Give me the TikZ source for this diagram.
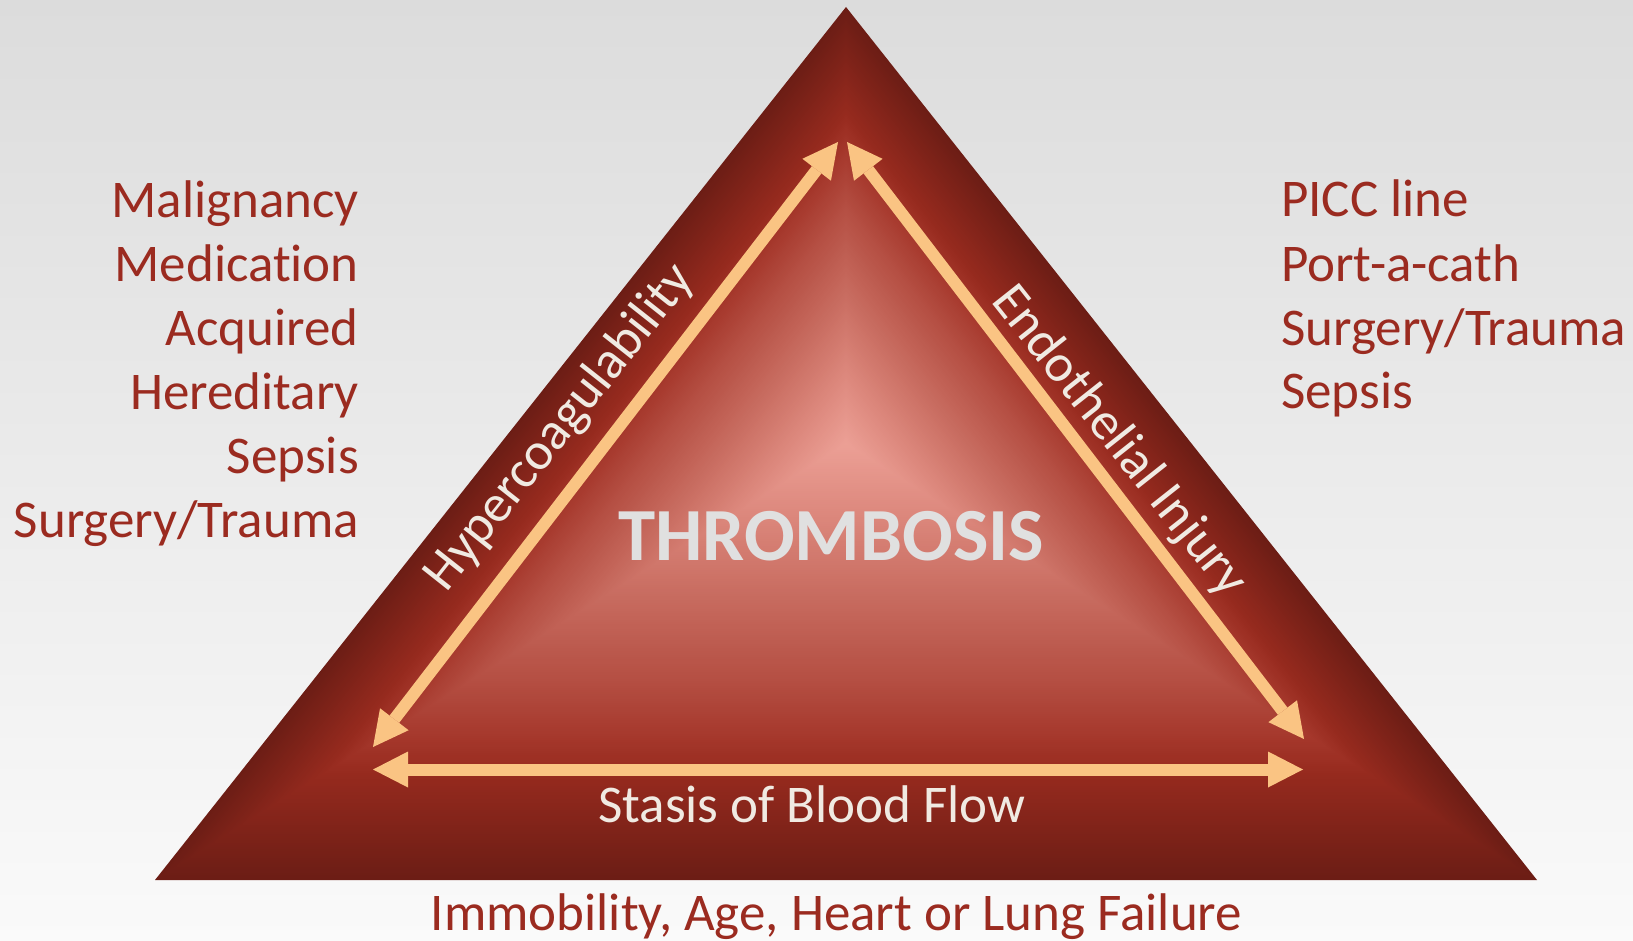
\documentclass[tikz,border=0pt]{standalone}
\usepackage{fontspec}
\setmainfont{Carlito}[Ligatures={NoCommon,NoContextual}]
\usetikzlibrary{arrows.meta,calc}

\definecolor{txtred}{RGB}{155,43,32}
\definecolor{lighttxt}{RGB}{240,234,226}
\definecolor{thromb}{RGB}{224,224,224}
\definecolor{arrowc}{RGB}{250,196,131}
\definecolor{bgtop}{RGB}{220,220,220}
\definecolor{bgbot}{RGB}{250,250,250}
\definecolor{gs0}{RGB}{236,160,150}
\definecolor{gs1}{RGB}{222,138,127}
\definecolor{gs2}{RGB}{200,108,96}
\definecolor{gs3}{RGB}{180,78,66}
\definecolor{gs4}{RGB}{165,55,43}
\definecolor{gs5}{RGB}{150,42,30}
\definecolor{gs6}{RGB}{108,29,21}

\newcommand\setgradcol[1]{%
  \pgfmathsetmacro\gt{#1}%
  \ifdim\gt pt<0.15pt
    \pgfmathsetmacro\gp{\gt/0.15*100}\colorlet{gc}{gs1!\gp!gs0}%
  \else\ifdim\gt pt<0.35pt
    \pgfmathsetmacro\gp{(\gt-0.15)/0.2*100}\colorlet{gc}{gs2!\gp!gs1}%
  \else\ifdim\gt pt<0.55pt
    \pgfmathsetmacro\gp{(\gt-0.35)/0.2*100}\colorlet{gc}{gs3!\gp!gs2}%
  \else\ifdim\gt pt<0.68pt
    \pgfmathsetmacro\gp{(\gt-0.55)/0.13*100}\colorlet{gc}{gs4!\gp!gs3}%
  \else\ifdim\gt pt<0.76pt
    \pgfmathsetmacro\gp{(\gt-0.68)/0.08*100}\colorlet{gc}{gs5!\gp!gs4}%
  \else
    \pgfmathsetmacro\gp{min(100,(\gt-0.76)/0.24*100)}\colorlet{gc}{gs6!\gp!gs5}%
  \fi\fi\fi\fi\fi
}

\tikzset{
  listtxt/.style={text=txtred, font=\fontsize{53}{63}\selectfont, inner sep=0pt},
  lbl/.style={text=lighttxt, font=\fontsize{53}{63}\selectfont, inner sep=0pt},
  titletxt/.style={text=thromb, font=\fontsize{75}{80}\selectfont\bfseries, inner sep=0pt},
  dblarrow/.style={draw=arrowc, line width=12pt,
    {Triangle[length=35pt,width=36pt,line width=0pt,fill=arrowc]}-{Triangle[length=35pt,width=36pt,line width=0pt,fill=arrowc]}}
}

\begin{document}
\begin{tikzpicture}[x=1pt,y=-1pt]
\useasboundingbox (0,0) rectangle (1633,941);
\shade[top color=bgtop, bottom color=bgbot] (0,0) rectangle (1633,941);

% triangle with path gradient
\coordinate (C) at (846,443.5);
\coordinate (A) at (846,7);
\coordinate (B) at (155,880);
\coordinate (D) at (1537,880);
\foreach \k in {200,199,...,1}{
  \pgfmathsetmacro\tt{\k/200}
  \setgradcol{\tt}
  \fill[gc] ($(C)!\tt!(A)$) -- ($(C)!\tt!(B)$) -- ($(C)!\tt!(D)$) -- cycle;
}

% arrow end points
\coordinate (lt) at (838,142);
\coordinate (lb) at (373,747);
\coordinate (rt) at (847,142);
\coordinate (rb) at (1304,739);
\coordinate (hl) at (373,769.5);
\coordinate (hr) at (1303,769.5);
\draw[dblarrow] (lb) -- (lt);
\draw[dblarrow] (rt) -- (rb);
\draw[dblarrow] (hl) -- (hr);

% labels inside
\node[titletxt, anchor=base] (thr) at (831,560) {THROMBOSIS};
\node[lbl, rotate=51.64] (hyper) at (560,428) {Hypercoagulability};
\node[lbl, rotate=-51.64] (endo) at (1119,442) {Endothelial Injury};
\node[lbl, anchor=base] (stasis) at (812,822) {Stasis of Blood Flow};

% left list
\node[listtxt, anchor=base east] (l1) at (359,218) {Malignancy};
\node[listtxt, anchor=base east] (l2) at (359,282) {Medication};
\node[listtxt, anchor=base east] (l3) at (359,345) {Acquired};
\node[listtxt, anchor=base east] (l4) at (359,409) {Hereditary};
\node[listtxt, anchor=base east] (l5) at (359,473) {Sepsis};
\node[listtxt, anchor=base east] (l6) at (359,537) {Surgery/Trauma};

% right list
\node[listtxt, anchor=base west] (r1) at (1281,217) {PICC line};
\node[listtxt, anchor=base west] (r2) at (1281,282) {Port-a-cath};
\node[listtxt, anchor=base west] (r3) at (1281,345) {Surgery/Trauma};
\node[listtxt, anchor=base west] (r4) at (1281,408) {Sepsis};

% bottom
\node[listtxt, anchor=base] (immob) at (836.5,930) {Immobility, Age, Heart or Lung Failure};
\end{tikzpicture}
\end{document}
